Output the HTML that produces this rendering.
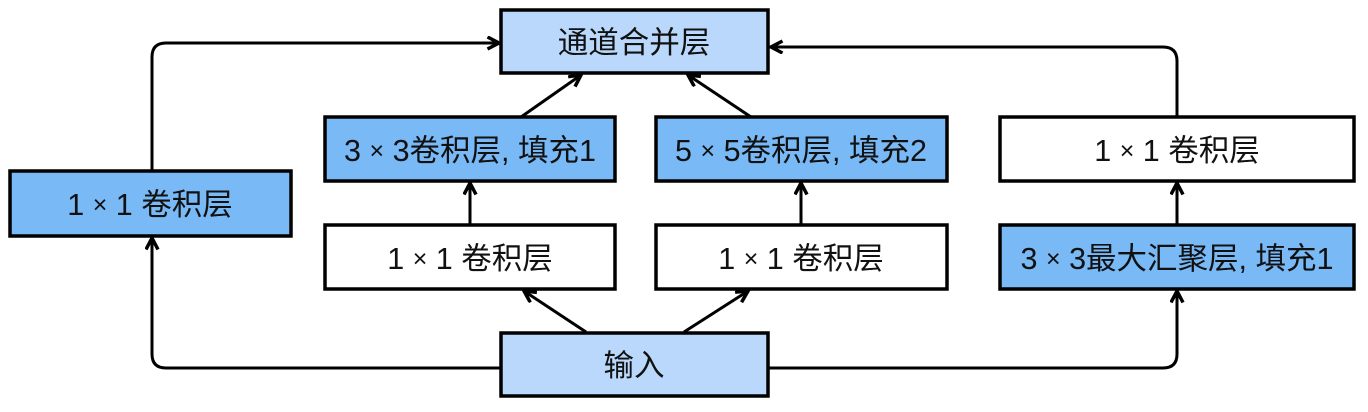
<!DOCTYPE html>
<html><head><meta charset="utf-8"><style>
html,body{margin:0;padding:0;background:#fff;}
svg{display:block;}
text{font-family:"Liberation Sans","Noto Sans CJK SC",sans-serif;font-size:30.5px;fill:#111;text-anchor:middle;dominant-baseline:central;}
</style></head><body>
<svg width="1368" height="412" viewBox="0 0 1368 412" xmlns="http://www.w3.org/2000/svg">
<defs>
<marker id="a" markerWidth="20" markerHeight="20" refX="13" refY="7" orient="auto" markerUnits="userSpaceOnUse">
<polyline points="1.5,1 13,7 1.5,13" fill="none" stroke="#000" stroke-width="3.5"/>
</marker>
</defs>
<g fill="none" stroke="#000" stroke-width="3" stroke-linejoin="round">
<path d="M501,368 H166 Q152,368 152,354 V238" marker-end="url(#a)"/>
<path d="M152,170 V57 Q152,43 166,43 H499" marker-end="url(#a)"/>
<path d="M1177,117 V61 Q1177,47 1163,47 H771" marker-end="url(#a)"/>
<path d="M768,368 H1163 Q1177,368 1177,354 V291" marker-end="url(#a)"/>
<path d="M521,117 L581,75" marker-end="url(#a)"/>
<path d="M751,117 L688,75" marker-end="url(#a)"/>
<path d="M586,332 L524,291" marker-end="url(#a)"/>
<path d="M684,332 L748,291" marker-end="url(#a)"/>
<path d="M470,225 V183" marker-end="url(#a)"/>
<path d="M801,225 V183" marker-end="url(#a)"/>
<path d="M1177,225 V183" marker-end="url(#a)"/>
</g>
<g stroke="#000" stroke-width="3.5">
<rect x="501" y="10" width="267" height="63" fill="#b9d8fb"/>
<rect x="10" y="171" width="281" height="65" fill="#78b9f6"/>
<rect x="325" y="117" width="290" height="64" fill="#78b9f6"/>
<rect x="656" y="117" width="291" height="64" fill="#78b9f6"/>
<rect x="1000" y="117" width="354" height="64" fill="#fff"/>
<rect x="325" y="225" width="290" height="64" fill="#fff"/>
<rect x="656" y="225" width="291" height="64" fill="#fff"/>
<rect x="1000" y="225" width="354" height="64" fill="#78b9f6"/>
<rect x="501" y="333" width="267" height="63" fill="#b9d8fb"/>
</g>
<text x="150" y="205">1 <tspan font-size="25">×</tspan> 1 卷积层</text>
<text x="634" y="43">通道合并层</text>
<text x="470" y="151">3 <tspan font-size="25">×</tspan> 3卷积层, 填充1</text>
<text x="801" y="151">5 <tspan font-size="25">×</tspan> 5卷积层, 填充2</text>
<text x="1177" y="151">1 <tspan font-size="25">×</tspan> 1 卷积层</text>
<text x="470" y="259">1 <tspan font-size="25">×</tspan> 1 卷积层</text>
<text x="801" y="259">1 <tspan font-size="25">×</tspan> 1 卷积层</text>
<text x="1177" y="259">3 <tspan font-size="25">×</tspan> 3最大汇聚层, 填充1</text>
<text x="634" y="366">输入</text>
</svg>
</body></html>
